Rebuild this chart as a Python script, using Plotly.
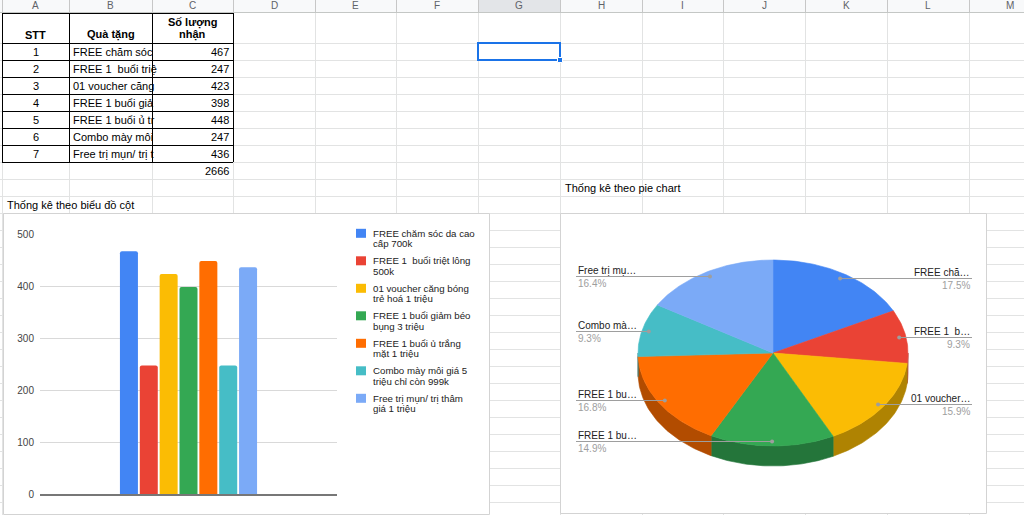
import math
import plotly.graph_objects as go

# ---------------- data ----------------
stt = [1, 2, 3, 4, 5, 6, 7]
gift_lines = [
    ("FREE chăm sóc da cao", "cấp 700k"),
    ("FREE 1  buổi triệt lông", "500k"),
    ("01 voucher căng bóng", "trẻ hoá 1 triệu"),
    ("FREE 1 buổi giảm béo", "bụng 3 triệu"),
    ("FREE 1 buổi ủ trắng", "mặt 1 triệu"),
    ("Combo mày môi giá 5", "triệu chỉ còn 999k"),
    ("Free trị mụn/ trị thâm", "giá 1 triệu"),
]
cell_text = ["FREE chăm sóc", "FREE 1  buổi triệ", "01 voucher căng", "FREE 1 buổi giả",
             "FREE 1 buổi ủ tr", "Combo mày môi", "Free trị mụn/ trị t"]
counts = [467, 247, 423, 398, 448, 247, 436]
pie_labels = ["FREE chă…", "FREE 1  b…", "01 voucher…", "FREE 1 bu…", "FREE 1 bu…",
              "Combo mà…", "Free trị mụ…"]
y_ticks = [0, 100, 200, 300, 400, 500]
col_letters = list("ABCDEFGHIJKLM")
header_texts = ["STT", "Quà tặng", "Số lượng", "nhận"]
bar_title = "Thống kê theo biểu đồ cột"
pie_title = "Thống kê theo pie chart"
colors = ["#4285f4", "#ea4335", "#fbbc04", "#34a853", "#ff6d01", "#46bdc6", "#7baaf7"]

# ---------------- layout constants (pixels) ----------------
W, H = 1024, 515
FONT = "Arial, Liberation Sans, sans-serif"
col_edges = [2, 69, 152, 233, 315, 396, 478, 560, 642, 723, 805, 887, 969, 1051]
HDR = 13
row_edges = [HDR, 43] + [43 + 17 * k for k in range(1, 29)]
GRID = "#e2e3e3"

shapes = []
annotations = []


def hline(y, x0, x1, color, width=1):
    shapes.append(dict(type="line", xref="x", yref="y", x0=x0, x1=x1, y0=y + 0.5, y1=y + 0.5,
                       line=dict(color=color, width=width), layer="below"))


def vline(x, y0, y1, color, width=1):
    shapes.append(dict(type="line", xref="x", yref="y", x0=x + 0.5, x1=x + 0.5, y0=y0, y1=y1,
                       line=dict(color=color, width=width), layer="below"))


def text(x, y, s, size=11, color="#000000", xanchor="center", bold=False):
    annotations.append(dict(x=x, y=y, xref="x", yref="y", text=("<b>%s</b>" % s) if bold else s,
                            showarrow=False, xanchor=xanchor, yanchor="middle",
                            font=dict(family=FONT, size=size, color=color)))


# spreadsheet background grid
shapes.append(dict(type="rect", xref="x", yref="y", x0=0, x1=W, y0=0, y1=HDR,
                   fillcolor="#f8f9fa", line=dict(width=0), layer="below"))
shapes.append(dict(type="rect", xref="x", yref="y", x0=col_edges[6], x1=col_edges[7], y0=0, y1=HDR,
                   fillcolor="#e3e5e8", line=dict(width=0), layer="below"))
for y in row_edges[1:]:
    hline(y, 0, W, GRID)
for x in col_edges:
    vline(x, HDR, H, GRID)
    vline(x, 0, HDR, "#c7c7c7")
hline(HDR - 1, 0, W, "#c4c7c5")
for i, letter in enumerate(col_letters):
    text((col_edges[i] + col_edges[i + 1]) / 2, 5, letter, size=10, color="#5f6368")

# selected cell G2
shapes.append(dict(type="rect", xref="x", yref="y", x0=col_edges[6], x1=col_edges[7],
                   y0=row_edges[1], y1=row_edges[2], line=dict(color="#1a73e8", width=2),
                   fillcolor="rgba(0,0,0,0)", layer="below"))
shapes.append(dict(type="rect", xref="x", yref="y", x0=col_edges[7] - 2.5, x1=col_edges[7] + 2.5,
                   y0=row_edges[2] - 2.5, y1=row_edges[2] + 2.5, line=dict(color="#ffffff", width=1),
                   fillcolor="#1a73e8", layer="below"))

# table borders
tbl_bottom = row_edges[len(counts) + 1]
for y in row_edges[0:len(counts) + 2]:
    hline(y, col_edges[0], col_edges[3], "#000000")
for x in col_edges[0:4]:
    vline(x, HDR, tbl_bottom, "#000000")

# table content
cA = (col_edges[0] + col_edges[1]) / 2
cB = (col_edges[1] + col_edges[2]) / 2
cC = (col_edges[2] + col_edges[3]) / 2
text(cA, 34.5, header_texts[0], bold=True)
text(cB, 34.5, header_texts[1], bold=True)
text(cC, 22.0, header_texts[2], bold=True)
text(cC, 34.5, header_texts[3], bold=True)
for i, (n, t, v) in enumerate(zip(stt, cell_text, counts)):
    yc = (row_edges[i + 1] + row_edges[i + 2]) / 2
    text(cA, yc, str(n))
    text(col_edges[1] + 2, yc, t, xanchor="left")
    text(col_edges[3] - 2, yc, str(v), xanchor="right")
total = sum(counts)
r9 = len(counts) + 1
text(col_edges[3] - 2, (row_edges[r9] + row_edges[r9 + 1]) / 2, str(total), xanchor="right")
text(col_edges[7] + 3, (row_edges[9] + row_edges[10]) / 2, pie_title, xanchor="left")
text(5, (row_edges[10] + row_edges[11]) / 2, bar_title, xanchor="left")

# chart boxes
BOX = "#d3d3d3"
bar_box = (3, 489, 213, 514)
pie_box = (560, 986, 213, 513)
for bx in (bar_box, pie_box):
    shapes.append(dict(type="rect", xref="x", yref="y", x0=bx[0] + 0.5, x1=bx[1] + 0.5,
                       y0=bx[2] + 0.5, y1=bx[3] + 0.5, fillcolor="#ffffff",
                       line=dict(color=BOX, width=1), layer="below"))

fig = go.Figure()

# ---------------- bar chart ----------------
plot_l, plot_r, plot_t, plot_b = 40, 337, 234, 494
for (l1, l2), v, c in zip(gift_lines, counts, colors):
    fig.add_trace(go.Bar(x=[0], y=[v], name=l1 + " " + l2, marker=dict(color=c, line=dict(width=0)),
                         xaxis="x2", yaxis="y2", showlegend=False, hoverinfo="skip"))

# custom legend
leg_x, leg_y0, leg_dy = 356, 233.3, 27.5
for i, ((l1, l2), c) in enumerate(zip(gift_lines, colors)):
    yc = leg_y0 + i * leg_dy
    shapes.append(dict(type="rect", xref="x", yref="y", x0=leg_x, x1=leg_x + 10, y0=yc - 4.5, y1=yc + 4.5,
                       fillcolor=c, line=dict(width=0), layer="above"))
    text(leg_x + 15, yc, l1, size=9.7, color="#222222", xanchor="left")
    text(leg_x + 15, yc + 10.5, l2, size=9.7, color="#222222", xanchor="left")

# ---------------- pie chart (3D tilted) ----------------
cx, cy, rx, ry, depth = 773, 353, 135, 93, 20


def pt(theta, dy=0.0, r=1.0):
    t = math.radians(theta)
    return cx + r * rx * math.sin(t), cy - r * ry * math.cos(t) + dy


def darken(hx, f=0.7):
    r, g, b = int(hx[1:3], 16), int(hx[3:5], 16), int(hx[5:7], 16)
    return "#%02x%02x%02x" % (int(r * f), int(g * f), int(b * f))


bounds = [0.0]
acc = 0
for v in counts:
    acc += v
    bounds.append(acc / total * 360.0)


def arc(a, b, dy=0.0):
    n = max(2, int(abs(b - a)) + 2)
    return [pt(a + (b - a) * k / (n - 1), dy) for k in range(n)]


# side walls
for i, c in enumerate(colors):
    a, b = max(bounds[i], 90.0), min(bounds[i + 1], 270.0)
    if b > a:
        pts = arc(a, b) + arc(b, a, depth)
        pts.append(pts[0])
        dc = darken(c)
        fig.add_trace(go.Scatter(x=[p[0] for p in pts], y=[p[1] for p in pts], mode="lines",
                                 fill="toself", fillcolor=dc, line=dict(color=dc, width=0.6),
                                 xaxis="x", yaxis="y", hoverinfo="skip", showlegend=False))
# top faces
for i, c in enumerate(colors):
    pts = [(cx, cy)] + arc(bounds[i], bounds[i + 1]) + [(cx, cy)]
    fig.add_trace(go.Scatter(x=[p[0] for p in pts], y=[p[1] for p in pts], mode="lines",
                             fill="toself", fillcolor=c, line=dict(color=c, width=0.6),
                             xaxis="x", yaxis="y", hoverinfo="skip", showlegend=False))

# leader lines and labels
LBL_R, LBL_L = 972, 576
for i, (lab, v) in enumerate(zip(pie_labels, counts)):
    mid = (bounds[i] + bounds[i + 1]) / 2
    ax_, ay_ = pt(mid, r=0.95)
    ay_ = round(ay_) + 0.5
    right = math.sin(math.radians(mid)) > 0
    xend = LBL_R if right else LBL_L
    fig.add_trace(go.Scatter(x=[ax_, xend], y=[ay_, ay_], mode="lines",
                             line=dict(color="#9e9e9e", width=1), xaxis="x", yaxis="y",
                             hoverinfo="skip", showlegend=False))
    fig.add_trace(go.Scatter(x=[ax_], y=[ay_], mode="markers",
                             marker=dict(color="#9e9e9e", size=4), xaxis="x", yaxis="y",
                             hoverinfo="skip", showlegend=False))
    anc = "right" if right else "left"
    text(xend, ay_ - 6.5, lab, size=10, color="#222222", xanchor=anc)
    text(xend, ay_ + 6.5, "%.1f%%" % (v / total * 100), size=10, color="#9e9e9e", xanchor=anc)

fig.update_layout(
    template="none",
    width=W, height=H, margin=dict(l=0, r=0, t=0, b=0, pad=0, autoexpand=False),
    paper_bgcolor="#ffffff", plot_bgcolor="rgba(0,0,0,0)",
    barmode="group", bargap=0.532, bargroupgap=0.094, barcornerradius=2,
    showlegend=False,
    xaxis=dict(domain=[0, 1], range=[0, W], visible=False, fixedrange=True, automargin=False),
    yaxis=dict(domain=[0, 1], range=[H, 0], visible=False, fixedrange=True, automargin=False),
    xaxis2=dict(domain=[plot_l / W, plot_r / W], range=[-0.5, 0.5], anchor="y2",
                showticklabels=False, showgrid=False, zeroline=False, ticks="",
                showline=True, linecolor="#777777", linewidth=1.5, fixedrange=True, automargin=False),
    yaxis2=dict(domain=[(H - plot_b) / H, (H - plot_t) / H], range=[0, 500], anchor="x2",
                tickvals=y_ticks, gridcolor="#d9d9d9", gridwidth=1, zeroline=False, showline=False, ticks="",
                ticklabelstandoff=5, tickfont=dict(family=FONT, size=10, color="#444444"),
                fixedrange=True, automargin=False),
    shapes=shapes, annotations=annotations,
    font=dict(family=FONT),
)

fig.write_html("out.html")
